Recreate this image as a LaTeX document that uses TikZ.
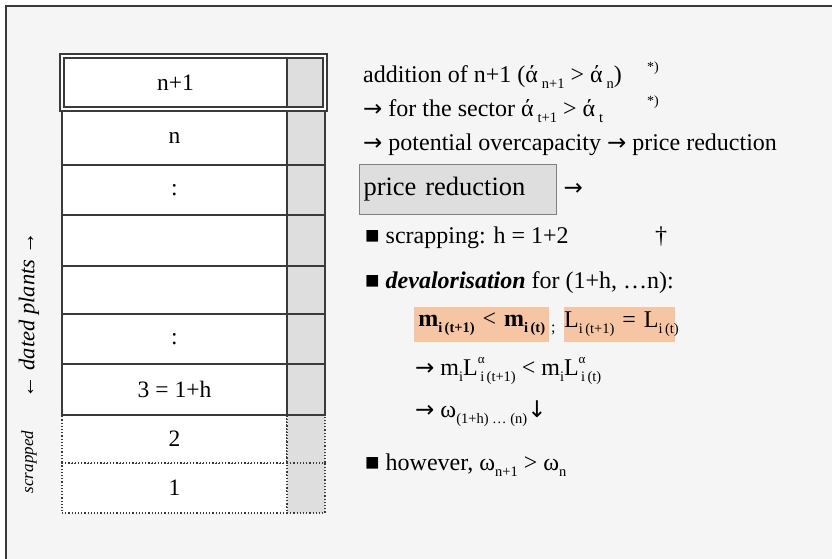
\documentclass[tikz,border=0pt]{standalone}
\usepackage{fontspec}
\setmainfont{Liberation Serif}
\newfontfamily\symfont{DejaVu Sans}
\usepackage{xcolor}
\usetikzlibrary{positioning}

\definecolor{paper}{HTML}{F5F5F5}
\definecolor{cellgrey}{HTML}{DEDEDE}
\definecolor{rulegrey}{HTML}{3A3A3A}
\definecolor{peach}{HTML}{F6C5A3}

\newcommand\lo[1]{\raisebox{-0.25em}{\fontsize{14.5}{16}\selectfont #1}}
\newcommand\hi[1]{\raisebox{0.5em}{\fontsize{13}{14}\selectfont #1}}
\newcommand\hilo[2]{\rlap{\hi{#1}}\lo{#2}}
\newcommand\arr{{\symfont\fontsize{23}{26}\selectfont →}}
\newcommand\darr{{\symfont\fontsize{23}{26}\selectfont ↓}}

\tikzset{
  cell/.style={draw=rulegrey, line width=1.2pt, fill=white, inner sep=0pt,
    minimum width=225pt, font=\fontsize{23.5}{27}\selectfont},
  greycell/.style={draw=rulegrey, line width=1.2pt, fill=cellgrey, inner sep=0pt,
    minimum width=38pt},
  gone/.style={dotted, line width=1.4pt},
  txt/.style={anchor=base west, inner sep=0pt, font=\fontsize{24}{28}\selectfont},
  starnote/.style={anchor=base west, inner sep=0pt, font=\fontsize{14}{16}\selectfont},
  hilite/.style={fill=peach, anchor=west, inner xsep=0pt, inner ysep=0pt,
    minimum height=35pt, font=\fontsize{24}{28}\selectfont}
}

\begin{document}
\begin{tikzpicture}[x=1pt, y=-1pt]
\useasboundingbox (0,0) rectangle (832,559);

% Paper and frame
\fill[paper] (6,6) rectangle (832,559);
\draw[rulegrey, line width=2pt] (6,559) -- (6,6) -- (832,6);

% Scrapped plants (dotted)
\node[cell, gone, minimum height=50pt] (plant1) at (174.5,488) {1};
\node[greycell, gone, minimum height=50pt] (grey1) at (306,488) {};
\node[cell, gone, minimum height=48pt] (plant2) at (174.5,439) {2};
\node[greycell, gone, minimum height=48pt] (grey2) at (306,439) {};

% Dated plants
\node[cell, minimum height=51pt] (plant3) at (174.5,389.5) {3 = 1+h};
\node[greycell, minimum height=51pt] (grey3) at (306,389.5) {};
\node[cell, minimum height=50pt] (plantdots) at (174.5,339) {:};
\node[greycell, minimum height=50pt] (greydots) at (306,339) {};
\node[cell, minimum height=48pt] (plantblank) at (174.5,290) {};
\node[greycell, minimum height=48pt] (greyblank) at (306,290) {};
\node[cell, minimum height=51pt] (plantempty) at (174.5,240.5) {};
\node[greycell, minimum height=51pt] (greyempty) at (306,240.5) {};
\node[cell, minimum height=50pt] (plantdotstop) at (174.5,190) {:};
\node[greycell, minimum height=50pt] (greydotstop) at (306,190) {};
\node[cell, minimum height=54pt] (plantn) at (174.5,138) {n};
\node[greycell, minimum height=54pt] (greyn) at (306,138) {};

% New plant n+1 with double frame
\node[draw=rulegrey, line width=1.4pt, fill=white, inner sep=0pt,
  minimum width=267pt, minimum height=57pt] (newframe) at (193.5,82.5) {};
\node[cell, minimum width=223pt, minimum height=49pt] (plantnew) at (175.5,82.5) {n+1};
\node[greycell, minimum width=36pt, minimum height=49pt] (greynew) at (305,82.5) {};

% Side labels
\node[rotate=90, font=\itshape\fontsize{22.5}{26}\selectfont] (datedlabel) at (29,315) {← dated plants →};
\node[rotate=90, font=\itshape\fontsize{17}{20}\selectfont] (scraplabel) at (29,462) {scrapped};

% Right-hand text
\node[txt] (addline) at (363,83) {addition of n+1 (ά\,\lo{n+1} > ά\,\lo{n})};
\node[starnote] (star1) at (647,72) {*)};
\node[txt] (sectorline) at (363,117) {\arr{} for the sector ά\,\lo{t+1} > ά\,\lo{t}};
\node[starnote] (star2) at (647,106) {*)};
\node[txt] (capline) at (363,150) {\arr{} potential overcapacity \arr{} price reduction};

\node[draw=gray, fill=cellgrey, line width=1pt, anchor=west, inner xsep=4pt,
  text width=189pt, minimum height=50pt, font=\fontsize{26.5}{30}\selectfont]
  (pricebox) at (359,189) {price reduction};
\node[right=3pt of pricebox] (pricearrow) {\arr};

\node[txt] (scrapline) at (365,243) {■ scrapping: h = 1+2};
\node[txt] (dagger) at (655,243) {†};
\node[txt] (devline) at (365,288) {■ \textbf{\textit{devalorisation}} for (1+h, …n):};

% Highlighted relations
\node[hilite, text width=135pt, align=center] (mbox) at (414,324.5)
  {\mbox{\textbf{m}\lo{\textbf{i\,(t+1)}} < \textbf{m}\lo{\textbf{i\,(t)}}}};
\node[anchor=base west, inner sep=0pt, font=\fontsize{16}{18}\selectfont] (semi) at (551,332) {;};
\node[hilite, text width=111pt, align=center] (lbox) at (564,324.5)
  {\mbox{L\lo{i\,(t+1)} = L\lo{i\,(t)}}};

\node[txt] (mlline) at (415,375) {\arr{} m\lo{i}L\hilo{α}{\,i\,(t+1)} < m\lo{i}L\hilo{α}{\,i\,(t)}};
\node[txt] (omegaline) at (415,417) {\arr{} ω\lo{(1+h) … (n)}\darr};
\node[txt] (howline) at (365,470) {■ however, ω\lo{n+1} > ω\lo{n}};

\end{tikzpicture}
\end{document}
